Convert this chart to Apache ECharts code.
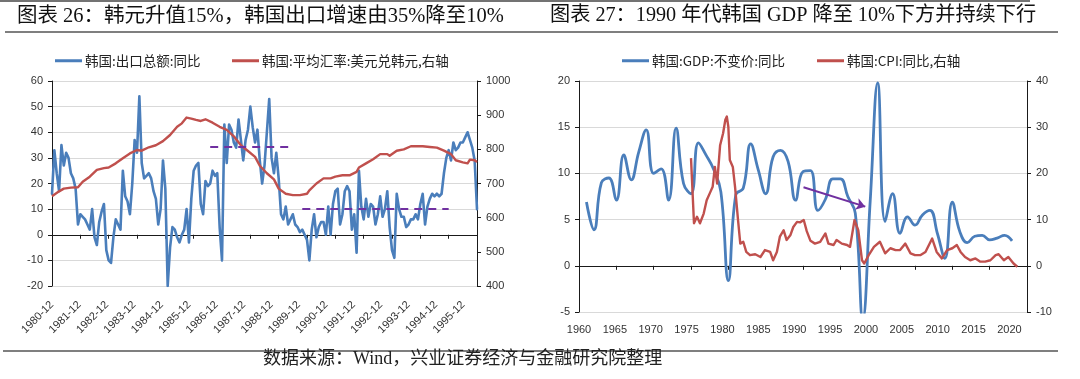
<!DOCTYPE html>
<html><head><meta charset="utf-8">
<script src="https://cdn.jsdelivr.net/npm/echarts@6/dist/echarts.min.js"></script>
<style>html,body{margin:0;padding:0;background:#fff}#c{width:1080px;height:379px}</style>
</head><body><div id="c"></div>
<script>
// ---------- Chart 26 data (monthly, 1980-12 .. 1995-12) ----------
const xLabels26 = ['1980-12','1981-12','1982-12','1983-12','1984-12','1985-12','1986-12','1987-12','1988-12','1989-12','1990-12','1991-12','1992-12','1993-12','1994-12','1995-12'];
const exports26 = [
 16,33,24,17,35,27,32,30,24,22,
 18,4,8,7,6,4,2,10,-1,-4,
 5,9,12,-6,-10,-11,-1,6,4,2,
 25,15,13,8,20,37,32,54,28,22,
 23,24,22,17,14,4,10,29,18,-20,
 -5,3,2,-1,-3,0,2,10,-3,14,
 25,27,28,12,8,21,19,20,25,23,
 24,3,-10,43,28,43,41,36,34,45,
 37,29,37,41,50,42,36,41,29,20,
 27,40,53,30,24,32,22,8,6,11,
 4,6,8,4,3,1,2,0,-2,-10,
 2,8,-1,3,5,5,0,11,0,12,
 17,18,4,8,17,19,17,2,8,-7,
 25,11,6,14,7,12,11,4,8,15,
 7,10,17,3,-6,-9,16,10,7,7,
 3,4,6,6,8,6,12,16,4,11,
 14,16,15,16,15,16,24,30,33,29,
 36,33,34,36,36,38,40,37,34,29,
 10];
const rateMonth26 = [0,3,5,8,11,13,16,19,22,24,27,30,33,36,38,41,44,47,50,53,55,57,59,61,63,65,68,71,74,77,80,83,86,88,91,94,96,99,102,105,108,109,112,115,118,120,123,126,129,130,133,136,139,142,143,146,149,152,154,157,160,163,166,169,171,174,176,177,179,180];
const rate26 = [663,677,685,688,689,705,720,740,745,747,759,774,788,798,796,806,812,824,842,866,876,893,890,886,883,888,878,866,857,838,812,795,778,752,730,712,685,670,666,666,670,680,700,715,715,720,724,724,734,747,759,771,786,786,781,796,800,809,809,809,807,805,796,786,768,762,759,770,768,763];
const guide35 = {from: 67, to: 102, value: 34.5};
const guide10 = {from: 106, to: 168, value: 10};

// ---------- Chart 27 data ----------
const xLabels27 = ['1960','1965','1970','1975','1980','1985','1990','1995','2000','2005','2010','2015','2020'];
const gdpYears = [1961,1962,1963,1964,1965,1966,1967,1968,1969,1970,1971,1972,1973,1974,1975,1976,1977,1978,1979,1980,1981,1982,1983,1984,1985,1986,1987,1988,1989,1990,1991,1992,1993,1994,1995,1996,1997,1998,1999,2000,2001,2002,2003,2004,2005,2006,2007,2008,2009,2010,2011,2012,2013,2014,2015,2016,2017,2018];
const gdpValues = [6.9,3.9,9.0,9.5,7.1,12.0,9.3,12.3,14.7,10.0,10.5,7.1,14.9,8.9,7.8,13.3,12.0,10.5,8.0,-1.6,7.7,8.4,13.2,10.4,7.8,11.8,12.5,11.3,7.1,10.2,10.3,6.0,7.2,9.4,9.4,7.5,5.7,-5.8,7.0,19.8,4.8,7.8,3.5,5.3,4.4,5.5,6.0,3.5,0.8,6.9,3.7,2.5,3.2,3.3,2.8,3.0,3.3,2.7];
const cpiTimes = [1975.0,1975.4,1975.8,1976.2,1976.7,1977.1,1977.6,1977.9,1978.2,1978.5,1978.9,1979.3,1979.6,1979.8,1980.0,1980.2,1980.6,1980.9,1981.3,1981.6,1982.0,1982.4,1982.9,1983.6,1984.3,1984.9,1985.6,1986.0,1986.5,1986.9,1987.4,1987.8,1988.3,1988.7,1989.2,1989.6,1990.1,1990.5,1991.0,1991.6,1992.3,1993.0,1993.4,1994.1,1994.5,1995.2,1995.9,1996.3,1996.9,1997.4,1997.9,1998.2,1998.8,1999.5,2000.3,2001.0,2001.7,2002.4,2003.0,2003.7,2004.4,2005.0,2005.7,2006.4,2007.3,2007.9,2008.6,2009.3,2010.0,2010.6,2011.1,2011.7,2012.4,2013.1,2013.75,2014.4,2015.1,2015.8,2016.2,2016.9,2017.5,2018.2,2018.7];
const cpiValues = [23.3,9.2,10.6,9.2,11.3,14.2,16.0,17.1,21.4,17.8,26.1,28.7,31.6,32.3,30.1,22.9,21.4,17.1,9.9,4.8,5.2,3.0,2.3,2.5,1.9,3.4,3.0,1.2,3.0,6.3,7.7,5.6,6.6,8.4,9.5,9.4,9.9,7.5,5.4,4.8,5.2,7.0,4.8,4.5,5.6,4.8,4.5,4.1,9.9,7.7,1.2,0.5,2.3,4.1,5.2,2.7,3.8,3.4,3.4,4.8,2.7,2.3,2.3,3.0,5.9,3.0,1.6,3.4,3.8,4.5,3.0,1.9,1.2,1.6,0.9,0.9,1.2,2.3,2.5,1.2,1.9,0.5,-0.2];
const arrowFrom = [1990.07, 8.5];
const arrowTo = [1998.34, 6.4];

// ---------- build ----------
const cats26 = [];
for (let i = 0; i <= 180; i++) {
  const y = 1980 + Math.floor((11 + i) / 12);
  const m = (11 + i) % 12 + 1;
  cats26.push(y + '-' + (m < 10 ? '0' + m : m));
}
const BLUE = '#4A7EBB', RED = '#C0504D', PURPLE = '#7030A0';
const GRID_C = '#D9D9D9', AX = '#1a1a1a', LBL = '#333';
const FONT = "'Liberation Sans', Arial, sans-serif";
const CJK = "'Noto Sans CJK SC', sans-serif";
const SERIF = "'Liberation Serif', 'Noto Sans CJK SC', serif";

function yAx(grid, pos, min, max, interval, split) {
  return {
    type: 'value', gridIndex: grid, position: pos, min, max, interval,
    axisLine: {show: true, lineStyle: {color: AX, width: 1}},
    axisTick: {show: true, length: 4, lineStyle: {color: AX}},
    axisLabel: {color: LBL, fontSize: 11, fontFamily: FONT, margin: 9, formatter: v => String(v)},
    splitLine: {show: split, lineStyle: {color: GRID_C, width: 1}}
  };
}
function legendItem(name, left) {
  return {
    data: [name], left, top: 54, icon: 'rect', itemWidth: 27, itemHeight: 3,
    padding: 0, selectedMode: false,
    textStyle: {fontSize: 13.5, color: '#222', fontFamily: CJK, padding: [0, 0, 0, -2]}
  };
}

const chart = echarts.init(document.getElementById('c'), null, {renderer: 'canvas'});
chart.setOption({
  animation: false,
  backgroundColor: '#fff',
  grid: [
    {left: 52, top: 81, width: 425, height: 205},
    {left: 579, top: 81, width: 448, height: 231}
  ],
  legend: [
    legendItem('韩国:出口总额:同比', 55),
    legendItem('韩国:平均汇率:美元兑韩元,右轴', 232),
    legendItem('韩国:GDP:不变价:同比', 622),
    legendItem('韩国:CPI:同比,右轴', 817)
  ],
  xAxis: [
    {type: 'category', gridIndex: 0, data: cats26, boundaryGap: false,
     axisLine: {onZero: true, onZeroAxisIndex: 0, lineStyle: {color: AX, width: 1}},
     axisTick: {show: true, interval: 11, length: 4, lineStyle: {color: AX}},
     axisLabel: {show: false}, splitLine: {show: false}},
    {type: 'value', gridIndex: 0, min: 0, max: 186, interval: 12, position: 'bottom',
     axisLine: {show: false, onZero: false}, axisTick: {show: false}, splitLine: {show: false},
     axisLabel: {rotate: 45, fontSize: 11, color: LBL, fontFamily: FONT, margin: 17, showMaxLabel: false,
       formatter: v => (v % 12 === 0 && v / 12 < xLabels26.length) ? xLabels26[v / 12] : ''}},
    {type: 'value', gridIndex: 1, min: 1960, max: 2020, interval: 5,
     axisLine: {onZero: true, onZeroAxisIndex: 2, lineStyle: {color: AX, width: 1}},
     axisTick: {show: true, length: 4, lineStyle: {color: AX}},
     axisLabel: {show: false}, splitLine: {show: false}},
    {type: 'value', gridIndex: 1, min: 1960, max: 2022.45, interval: 5, position: 'bottom',
     axisLine: {show: false, onZero: false}, axisTick: {show: false}, splitLine: {show: false},
     axisLabel: {fontSize: 11, color: LBL, fontFamily: FONT, margin: 12, showMaxLabel: false,
       formatter: v => { const k = Math.round((v - 1960) / 5); return (Math.abs(v - 1960 - 5 * k) < 1e-6 && k < xLabels27.length) ? xLabels27[k] : ''; }}}
  ],
  yAxis: [
    yAx(0, 'left', -20, 60, 10, true),
    yAx(0, 'right', 400, 1000, 100, false),
    yAx(1, 'left', -5, 20, 5, true),
    yAx(1, 'right', -10, 40, 10, false)
  ],
  graphic: [
    {type: 'line', shape: {x1: 0, y1: 1, x2: 1030, y2: 1}, style: {stroke: '#444', lineWidth: 1.5}},
    {type: 'line', shape: {x1: 5, y1: 32, x2: 1058, y2: 32}, style: {stroke: '#555', lineWidth: 1.5}},
    {type: 'line', shape: {x1: 3, y1: 351, x2: 1058, y2: 351}, style: {stroke: '#555', lineWidth: 1.5}},
    {type: 'text', left: 17, top: 6, style: {text: '图表 26：韩元升值15%，韩国出口增速由35%降至10%', font: '20.5px ' + SERIF, fill: '#111'}},
    {type: 'text', left: 550, top: 6, style: {text: '图表 27：1990 年代韩国 GDP 降至 10%下方并持续下行', font: '20.2px ' + SERIF, fill: '#111'}},
    {type: 'text', left: 263, top: 350, style: {text: '数据来源：Wind，兴业证券经济与金融研究院整理', font: '18px ' + SERIF, fill: '#222'}}
  ],
  series: [
    {name: '韩国:出口总额:同比', type: 'line', xAxisIndex: 0, yAxisIndex: 0, data: exports26,
     symbol: 'none', lineStyle: {color: BLUE, width: 2.6, join: 'round', cap: 'round'}, itemStyle: {color: BLUE}},
    {name: '韩国:平均汇率:美元兑韩元,右轴', type: 'line', xAxisIndex: 0, yAxisIndex: 1,
     data: rateMonth26.map((m, i) => [cats26[m], rate26[i]]),
     symbol: 'none', lineStyle: {color: RED, width: 2.4, join: 'round'}, itemStyle: {color: RED}},
    {type: 'line', xAxisIndex: 0, yAxisIndex: 0, data: [], symbol: 'none',
     markLine: {silent: true, symbol: ['none', 'none'], label: {show: false},
       lineStyle: {color: PURPLE, width: 2, type: [8, 6]},
       data: [
         [{coord: [cats26[guide35.from], guide35.value]}, {coord: [cats26[guide35.to], guide35.value]}],
         [{coord: [cats26[guide10.from], guide10.value]}, {coord: [cats26[guide10.to], guide10.value]}]
       ]}},
    {name: '韩国:GDP:不变价:同比', type: 'line', xAxisIndex: 2, yAxisIndex: 2,
     data: gdpYears.map((y, i) => [y, gdpValues[i]]), smooth: 0.45,
     symbol: 'none', lineStyle: {color: BLUE, width: 2.8}, itemStyle: {color: BLUE}},
    {name: '韩国:CPI:同比,右轴', type: 'line', xAxisIndex: 2, yAxisIndex: 3,
     data: cpiTimes.map((t, i) => [t, cpiValues[i]]),
     symbol: 'none', lineStyle: {color: RED, width: 2.4, join: 'round'}, itemStyle: {color: RED}},
    {type: 'line', xAxisIndex: 2, yAxisIndex: 2, data: [], symbol: 'none',
     markLine: {silent: true, symbol: ['none', 'arrow'], symbolSize: 9, label: {show: false},
       lineStyle: {color: PURPLE, width: 2, type: 'solid'},
       data: [[{coord: arrowFrom}, {coord: arrowTo}]]}}
  ]
});
</script></body></html>
